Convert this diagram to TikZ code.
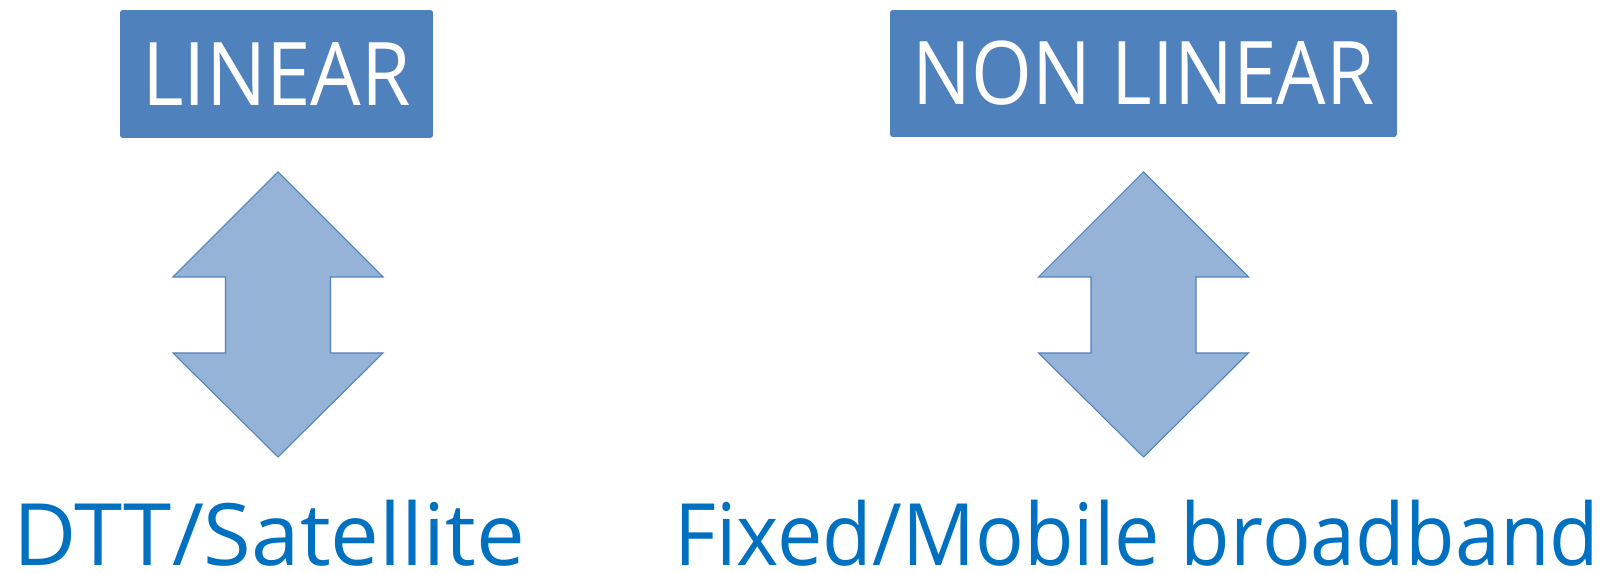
\documentclass[tikz,border=0pt]{standalone}
\usepackage{fontspec}
\setmainfont{Open Sans}
\usetikzlibrary{positioning}
\definecolor{boxblue}{HTML}{4F81BD}
\definecolor{arrowfill}{HTML}{95B3D7}
\definecolor{labelblue}{HTML}{0070C0}

\tikzset{
  titlebox/.style={fill=boxblue, text=white, rounded corners=1.5pt, inner sep=0pt,
    font=\fontsize{50}{50}\selectfont},
  mediatext/.style={text=labelblue, inner sep=0pt, anchor=base west,
    font=\fontsize{49}{49}\selectfont},
}

\begin{document}
\begin{tikzpicture}[x=0.02cm,y=-0.02cm]
    \useasboundingbox (0,0) rectangle (1614,573);
    % the two headings
    \node[titlebox, minimum width=6.26cm, minimum height=2.56cm] (linear) at (276.5,74) {\scalebox{0.91}[1]{LINEAR}};
    \node[titlebox, minimum width=10.14cm, minimum height=2.54cm] (nonlinear) at (1143.5,73.5) {\scalebox{0.89}[1]{NON LINEAR}};
    % up-down arrows
    \foreach \cx in {278,1143.5} {
      \draw[fill=arrowfill, draw=boxblue, line width=0.6pt, line join=miter]
        (\cx,172) -- (\cx+105,277) -- (\cx+52.5,277) -- (\cx+52.5,353) -- (\cx+105,353)
        -- (\cx,457) -- (\cx-105,353) -- (\cx-52.5,353) -- (\cx-52.5,277) -- (\cx-105,277) -- cycle;
    }
    % delivery labels
    \node[mediatext] (dtt) at (13,566) {\scalebox{1.01}[1]{DTT/Satellite}};
    \node[mediatext] (broadband) at (674,566) {\scalebox{0.94}[1]{Fixed/Mobile broadband}};
\end{tikzpicture}
\end{document}
